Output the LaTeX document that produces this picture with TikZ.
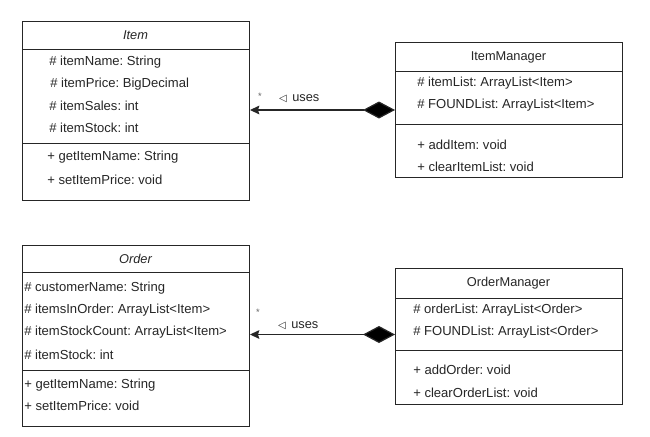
\documentclass[tikz,border=0pt]{standalone}
\usepackage{fontspec}
\setmainfont{Liberation Sans}
\newfontfamily\symfont{DejaVu Sans}
\usetikzlibrary{arrows.meta}
\frenchspacing
\begin{document}
\begin{tikzpicture}[x=0.75pt,y=-0.75pt,
  classbox/.style={draw=black!85,line width=0.75pt,anchor=north west,inner sep=0pt},
  sepline/.style={draw=black!85,line width=0.75pt},
  txt/.style={anchor=west,inner sep=0pt,font=\fontsize{9.8}{11}\selectfont,text=black!85},
  ttl/.style={anchor=center,inner sep=0pt,font=\fontsize{9.6}{11}\selectfont,text=black!85},
  lbl/.style={inner sep=0pt,font=\fontsize{9.6}{11}\selectfont,text=black!85},
  comp/.style={draw=black!85,line width=0.9pt,
    {Diamond[length=24pt,width=12.75pt,fill=black]}-{Stealth[length=7pt,width=6.5pt,inset=1pt]}}
]
\useasboundingbox (0,0) rectangle (650,436);
\fill[white] (0,0) rectangle (650,436);

% Item
\node[classbox,minimum width=170.25pt,minimum height=134.25pt] (item) at (22,21) {};
\draw[sepline] (22,49) -- (249,49);
\draw[sepline] (22,143) -- (249,143);
\node[ttl,font=\fontsize{9.6}{11}\selectfont\itshape] (itemT) at (135.5,35) {Item};
\node[txt] (i1) at (49,62) {\# itemName: String};
\node[txt] (i2) at (50,84) {\# itemPrice: BigDecimal};
\node[txt] (i3) at (49,106) {\# itemSales: int};
\node[txt] (i4) at (49,128) {\# itemStock: int};
\node[txt] (i5) at (47,157) {+ getItemName: String};
\node[txt] (i6) at (47,180) {+ setItemPrice: void};

% ItemManager
\node[classbox,minimum width=170.25pt,minimum height=101.25pt] (im) at (395,42) {};
\draw[sepline] (395,71) -- (622,71);
\draw[sepline] (395,124) -- (622,124);
\node[ttl] (imT) at (508.5,57) {ItemManager};
\node[txt] (m1) at (417,83) {\# itemList: ArrayList<Item>};
\node[txt] (m2) at (417,105) {\# FOUNDList: ArrayList<Item>};
\node[txt] (m3) at (417,145) {+ addItem: void};
\node[txt] (m4) at (417,167) {+ clearItemList: void};

% Order
\node[classbox,minimum width=170.25pt,minimum height=135.75pt] (order) at (22,245) {};
\draw[sepline] (22,272) -- (249,272);
\draw[sepline] (22,370) -- (249,370);
\node[ttl,font=\fontsize{9.6}{11}\selectfont\itshape] (orderT) at (135.5,259) {Order};
\node[txt] (o1) at (24,288) {\# customerName: String};
\node[txt] (o2) at (24,310) {\# itemsInOrder: ArrayList<Item>};
\node[txt] (o3) at (24,332) {\# itemStockCount: ArrayList<Item>};
\node[txt] (o4) at (24,355) {\# itemStock: int};
\node[txt] (o5) at (24,385) {+ getItemName: String};
\node[txt] (o6) at (24,406) {+ setItemPrice: void};

% OrderManager
\node[classbox,minimum width=170.25pt,minimum height=102pt] (om) at (395,268) {};
\draw[sepline] (395,298) -- (622,298);
\draw[sepline] (395,350) -- (622,350);
\node[ttl] (omT) at (508.5,283) {OrderManager};
\node[txt] (p1) at (413,310) {\# orderList: ArrayList<Order>};
\node[txt] (p2) at (413,332) {\# FOUNDList: ArrayList<Order>};
\node[txt] (p3) at (413,370) {+ addOrder: void};
\node[txt] (p4) at (413,393) {+ clearOrderList: void};

% connectors
\draw[comp] (im.west) -- (im.west -| item.east);
\draw[comp] ([yshift=1.5pt]om.west) -- ([yshift=1.5pt]om.west -| order.east);

% labels
\node[lbl,font=\fontsize{7}{8}\selectfont,text=black!60] (s1) at (260,96) {*};
\node[lbl,font=\symfont\fontsize{7.5}{8}\selectfont] (t1) at (283,99) {◁};
\node[lbl,anchor=west] (u1) at (292,98) {uses};
\node[lbl,font=\fontsize{7}{8}\selectfont,text=black!60] (s2) at (258,312) {*};
\node[lbl,font=\symfont\fontsize{7.5}{8}\selectfont] (t2) at (282,326) {◁};
\node[lbl,anchor=west] (u2) at (291,325) {uses};
\end{tikzpicture}
\end{document}
